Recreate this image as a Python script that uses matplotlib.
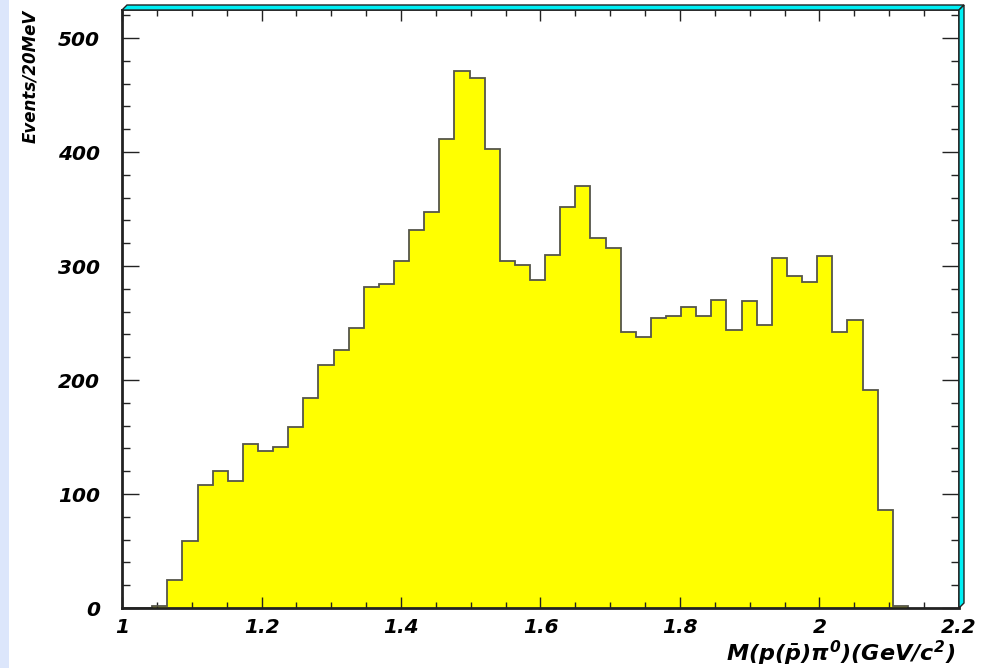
import numpy as np
import matplotlib
matplotlib.use("Agg")
import matplotlib.pyplot as plt
from matplotlib.patches import Polygon, Rectangle
from matplotlib.ticker import MultipleLocator

# event counts per bin, bins start at 1.0 GeV
bin_lo = 1.0
bin_width = 1.3 / 60
counts = [0, 0, 2, 25, 59, 108, 120, 111, 144, 138, 141, 159, 184, 213, 226,
          246, 282, 284, 304, 332, 347, 411, 471, 465, 403, 304, 301, 288,
          310, 352, 370, 325, 316, 242, 238, 254, 256, 264, 256, 270, 244,
          269, 248, 307, 291, 286, 309, 242, 253, 191, 86, 2]
x_ticks = [1, 1.2, 1.4, 1.6, 1.8, 2, 2.2]
x_ticklabels = ["1", "1.2", "1.4", "1.6", "1.8", "2", "2.2"]
y_ticks = [0, 100, 200, 300, 400, 500]

edges = bin_lo + bin_width * np.arange(len(counts) + 1)

plt.rcParams["font.family"] = "DejaVu Sans"
plt.rcParams["mathtext.fontset"] = "custom"
plt.rcParams["mathtext.rm"] = "DejaVu Sans:italic:bold"
plt.rcParams["mathtext.it"] = "DejaVu Sans:italic:bold"
plt.rcParams["mathtext.bf"] = "DejaVu Sans:italic:bold"

fig = plt.figure(figsize=(9.9, 6.68), dpi=100)
W, H = 990, 668
L, R, B, T = 122, 959, 608, 10
ax = fig.add_axes([L / W, 1 - B / H, (R - L) / W, (B - T) / H])

# pale strip at the left edge of the page
fig.patches.append(Rectangle((0, 0), 9 / W, 1, transform=fig.transFigure,
                             facecolor="#dce6fb", edgecolor="none", zorder=-1))

ax.stairs(counts, edges, fill=True, color="#ffff00", zorder=1)
ax.stairs(counts, edges, baseline=0, color="#55554a", linewidth=1.3, zorder=2)

ax.set_xlim(1.0, 2.2)
ax.set_ylim(0, 598 / 1.14)

ax.set_xticks(x_ticks)
ax.set_xticklabels(x_ticklabels)
ax.set_yticks(y_ticks)
ax.xaxis.set_minor_locator(MultipleLocator(0.05))
ax.yaxis.set_minor_locator(MultipleLocator(20))

ax.tick_params(axis="both", which="both", direction="in", colors="#222222",
               top=True, right=True)
ax.tick_params(axis="y", which="major", length=12, width=1.0, pad=16)
ax.tick_params(axis="y", which="minor", length=6, width=1.0)
ax.tick_params(axis="x", which="major", length=8, width=1.0, pad=7)
ax.tick_params(axis="x", which="minor", length=4, width=1.0)
for lab in ax.get_xticklabels() + ax.get_yticklabels():
    lab.set_fontsize(14.5)
    lab.set_fontweight("bold")
    lab.set_fontstyle("italic")
    lab.set_color("black")

for side in ["left", "bottom"]:
    ax.spines[side].set_linewidth(2.0)
    ax.spines[side].set_color("#222222")
for side in ["top", "right"]:
    ax.spines[side].set_linewidth(1.2)
    ax.spines[side].set_color("#222222")
for sp in ax.spines.values():
    sp.set_zorder(5)

# raised cyan frame along top and right edges
dx, dy = 5 / (R - L), 5 / (B - T)
top_band = Polygon([(0, 1), (dx, 1 + dy), (1 + dx, 1 + dy), (1, 1)],
                   closed=True, transform=ax.transAxes, clip_on=False,
                   facecolor="#00f0f5", edgecolor="#222222", linewidth=1.0,
                   zorder=6)
right_band = Polygon([(1, 1), (1 + dx, 1 + dy), (1 + dx, dy), (1, 0)],
                     closed=True, transform=ax.transAxes, clip_on=False,
                     facecolor="#00f0f5", edgecolor="#222222", linewidth=1.0,
                     zorder=6)
ax.add_patch(top_band)
ax.add_patch(right_band)

fig.text(30 / W, 1 - 10 / H, "Events/20MeV", rotation=90, ha="center",
         va="top", fontsize=12, fontweight="bold", fontstyle="italic")
fig.text(955 / W, 1 - 661 / H, r"$M(p(\bar{p})\pi^{0})(GeV/c^{2})$",
         ha="right", va="baseline", fontsize=16)

fig.savefig("out.png", dpi=100)
